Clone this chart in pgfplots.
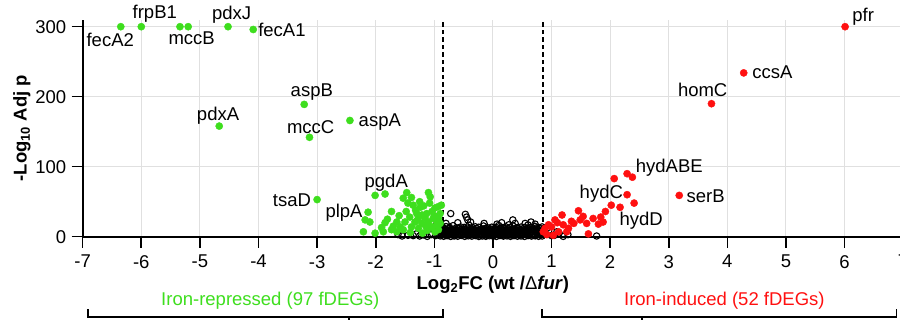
\documentclass[border=0pt]{standalone}
\usepackage{fontspec}
\setmainfont{Liberation Sans}
\usepackage{pgfplots}
\pgfplotsset{compat=1.18}
\definecolor{dgreen}{RGB}{62,222,30}
\definecolor{dred}{RGB}{255,16,16}
\begin{document}
\begin{tikzpicture}[font=\fontsize{18.5}{22}\selectfont]
\begin{axis}[
  scale only axis,
  width=820.4pt, height=217pt,
  xmin=-7, xmax=7, ymin=0, ymax=310,
  axis lines=left,
  axis line style={-, line width=1.8pt},
  clip=false,
  xtick={-7,...,7}, ytick={0,100,200,300},
  tick align=outside,
  major tick length=11pt,
  every tick/.style={black, line width=1.6pt},
  grid=major,
  major grid style={black!12, line width=0.9pt},
  /pgf/number format/assume math mode=true,
  xticklabel style={anchor=north, yshift=-4pt},
  yticklabel style={anchor=east, xshift=-2pt},
]
% non-significant genes
\addplot[only marks, mark=o, mark size=3.2pt, black, mark options={line width=1.1pt}] coordinates {
(-0.90,1.2)(-0.84,0.6)(-0.78,1.5)(-0.72,0.4)(-0.66,1.1)(-0.60,0.7)(-0.54,1.8)(-0.48,0.5)(-0.42,1.3)(-0.36,0.8)(-0.30,1.6)(-0.24,0.3)(-0.18,1.0)(-0.12,0.6)(-0.06,1.4)(0.00,0.9)(0.06,0.4)(0.12,1.7)(0.18,0.8)(0.24,1.2)(0.30,0.5)(0.36,1.5)(0.42,0.7)(0.48,1.1)(0.54,0.4)(0.60,1.6)(0.66,0.9)(0.72,1.3)(0.78,0.6)(0.84,1.0)
(-0.88,2.4)(-0.81,2.0)(-0.74,2.6)(-0.67,2.1)(-0.60,2.8)(-0.53,2.2)(-0.46,2.5)(-0.39,2.0)(-0.32,2.7)(-0.25,2.3)(-0.18,2.6)(-0.11,2.1)(-0.04,2.8)(0.03,2.2)(0.10,2.5)(0.17,2.0)(0.24,2.7)(0.31,2.3)(0.38,2.6)(0.45,2.1)(0.52,2.8)(0.59,2.2)(0.66,2.5)(0.73,2.0)(0.80,2.6)
(-0.87,3.6)(-0.81,4.2)(-0.75,3.1)(-0.69,4.4)(-0.63,3.3)(-0.57,3.9)(-0.51,4.6)(-0.45,3.2)(-0.39,4.0)(-0.33,3.5)(-0.27,4.3)(-0.21,3.0)(-0.15,3.8)(-0.09,4.5)(-0.03,3.4)(0.03,4.1)(0.09,3.2)(0.15,3.9)(0.21,4.4)(0.27,3.3)(0.33,4.0)(0.39,3.6)(0.45,4.5)(0.51,3.1)(0.57,3.8)(0.63,4.2)(0.69,3.4)(0.75,4.0)(0.81,3.5)
(-0.85,5.1)(-0.78,4.8)(-0.71,5.3)(-0.64,4.9)(-0.57,5.2)(-0.50,4.8)(-0.43,5.4)(-0.36,5.0)(-0.29,4.9)(-0.22,5.3)(-0.15,5.0)(-0.08,4.8)(-0.01,5.2)(0.06,5.0)(0.13,4.9)(0.20,5.3)(0.27,5.1)(0.34,4.8)(0.41,5.2)(0.48,5.0)(0.55,4.9)(0.62,5.3)(0.69,5.0)(0.76,4.8)(0.83,5.2)
(-0.89,6.2)(-0.82,5.6)(-0.76,6.8)(-0.70,5.9)(-0.64,6.5)(-0.58,5.5)(-0.52,7.0)(-0.46,6.1)(-0.40,5.7)(-0.34,6.9)(-0.28,6.0)(-0.22,6.6)(-0.16,5.8)(-0.10,6.4)(-0.04,7.1)(0.02,5.6)(0.08,6.3)(0.14,6.9)(0.20,5.9)(0.26,6.5)(0.32,5.7)(0.38,6.8)(0.44,6.1)(0.50,5.5)(0.56,6.6)(0.62,6.0)(0.68,7.0)(0.74,5.8)(0.80,6.4)
(-0.88,7.6)(-0.81,7.3)(-0.74,7.8)(-0.67,7.4)(-0.60,7.7)(-0.53,7.3)(-0.46,7.9)(-0.39,7.5)(-0.32,7.4)(-0.25,7.8)(-0.18,7.5)(-0.11,7.3)(-0.04,7.7)(0.03,7.5)(0.10,7.4)(0.17,7.8)(0.24,7.6)(0.31,7.3)(0.38,7.7)(0.45,7.5)(0.52,7.4)(0.59,7.8)(0.66,7.5)(0.73,7.3)(0.80,7.7)
(-0.86,8.6)(-0.79,9.3)(-0.73,8.1)(-0.67,9.0)(-0.61,8.4)(-0.55,9.5)(-0.49,8.2)(-0.43,8.9)(-0.37,9.4)(-0.31,8.0)(-0.25,8.7)(-0.19,9.2)(-0.13,8.3)(-0.07,9.0)(-0.01,8.5)(0.05,9.6)(0.11,8.2)(0.17,8.8)(0.23,9.3)(0.29,8.1)(0.35,9.0)(0.41,8.6)(0.47,9.4)(0.53,8.3)(0.59,8.9)(0.65,8.0)(0.71,9.2)(0.77,8.5)
(-0.87,10.2)(-0.79,9.9)(-0.71,10.4)(-0.63,10.0)(-0.54,10.3)(-0.46,9.8)(-0.39,10.5)(-0.32,10.1)(-0.24,9.9)(-0.16,10.4)(-0.08,10.0)(0.00,10.3)(0.08,9.8)(0.16,10.4)(0.23,10.1)(0.31,9.9)(0.39,10.3)(0.47,10.0)(0.55,10.4)(0.63,9.8)(0.70,10.2)(0.78,10.0)
(-0.83,11.2)(-0.74,12.0)(-0.66,10.8)(-0.58,11.9)(-0.50,10.6)(-0.44,12.4)(-0.36,11.1)(-0.28,11.8)(-0.20,10.7)(-0.12,12.2)(-0.04,11.0)(0.04,11.7)(0.12,10.9)(0.19,12.3)(0.27,11.3)(0.35,10.6)(0.43,12.1)(0.51,11.0)(0.59,11.8)(0.67,10.7)(0.74,12.5)(0.81,11.4)
(-0.85,13.1)(-0.74,13.4)(-0.62,12.9)(-0.49,13.3)(-0.35,13.0)(-0.24,13.5)(-0.09,12.8)(0.05,13.4)(0.16,13.0)(0.29,13.3)(0.41,12.9)(0.54,13.4)(0.66,13.0)(0.78,13.2)
(-0.80,14.5)(-0.68,15.8)(-0.55,13.9)(-0.41,16.5)(-0.30,14.2)(-0.16,15.3)(-0.02,13.6)(0.10,16.0)(0.22,14.1)(0.34,15.5)(0.48,13.8)(0.60,16.8)(0.72,14.6)
(-0.72,33)(-0.47,32)(-0.45,28)(-0.43,24)(-0.38,21)(-0.60,20)(0.07,18)(0.27,17)(0.34,24)(0.38,19)(0.55,19)(0.65,21)(0.72,18)(-0.80,19)(-0.15,19)(0.15,20)(0.84,14)
(-1.62,3)(-1.55,1)(-1.45,2)(-1.36,1.5)(-1.31,4)(-1.25,1)(-1.18,2.5)(-1.12,0.5)(-1.05,3)(-0.98,1.5)(-0.94,5)(-0.92,9)(-0.88,16)(-1.03,12)(-0.96,18)
(0.90,4)(0.95,8)(1.05,2)(1.09,7)(1.13,5)(1.20,0.5)(1.28,3)(1.77,1)(0.92,12)(1.00,1.5)
};
% iron-repressed
\addplot[only marks, mark=*, mark size=3.6pt, dgreen, mark options={draw=dgreen, fill=dgreen}] coordinates {
(-6.35,300)(-6.00,300)(-5.34,300)(-5.20,300)(-4.52,300)(-4.09,296)(-3.22,189)(-3.13,142)(-2.44,166)(-4.67,158)(-3.00,53)
(-2.01,59)(-1.84,61)(-1.47,63)(-1.10,63)(-1.07,57)(-1.53,55)(-1.39,56)(-2.13,35)(-2.18,24)(-2.10,21)(-2.21,7)(-2.01,5)(-1.87,7)(-1.73,10)(-1.73,36)(-1.84,20)(-1.64,21)(-1.50,21)(-1.48,36)
(-1.36,45)(-1.24,42)(-1.18,44)(-1.30,33)(-1.21,31)(-1.13,33)(-1.04,36)(-0.99,41)(-0.93,43)(-1.33,21)(-1.21,19)(-1.10,21)(-1.02,26)(-0.93,26)(-1.53,10)(-1.39,14)(-1.27,12)(-1.14,14)(-1.04,14)(-0.96,17)(-0.90,19)(-1.64,7)(-1.41,6)(-0.99,7)(-0.88,45)(-0.93,10)
(-1.80,25)(-1.60,30)(-1.42,28)(-1.28,25)(-1.16,27)(-1.08,48)(-1.25,50)(-1.45,48)(-1.32,38)(-1.00,30)(-0.90,33)(-0.95,22)(-1.12,9)(-1.20,5)(-1.58,14)(-1.70,15)(-1.90,13)
};
% iron-induced
\addplot[only marks, mark=*, mark size=3.6pt, dred, mark options={draw=dred, fill=dred}] coordinates {
(6.01,300)(4.28,234)(3.73,190)(3.18,59)
(2.07,83)(2.29,90)(2.38,85)(2.29,60)(2.41,48)(2.02,45)(2.17,42)(1.92,36)(1.84,28)(1.88,21)(1.71,26)(1.60,19)(1.46,37)(1.49,24)(1.38,19)(1.29,12)(1.18,31)(1.20,17)(1.06,24)(1.00,14)(1.12,7)(1.63,4)(0.95,17)(0.89,12)(0.86,7)(1.03,2)(1.26,7)(1.80,18)(1.54,29)(1.34,22)(0.92,3)(1.10,20)
};
% thresholds
\addplot[black, line width=1.8pt, dash pattern=on 4.5pt off 3pt] coordinates {(-0.85,0)(-0.85,310)};
\addplot[black, line width=1.8pt, dash pattern=on 4.5pt off 3pt] coordinates {(0.85,0)(0.85,310)};
% brackets
\addplot[black, line width=1.6pt] coordinates {(-6.91,-103.3)(-6.91,-114.3)(-0.85,-114.3)(-0.85,-103.3)};
\addplot[black, line width=1.6pt] coordinates {(-2.455,-114.3)(-2.455,-130)};
\addplot[black, line width=1.6pt] coordinates {(0.833,-103.3)(0.833,-114.3)(6.89,-114.3)(6.89,-103.3)};
\addplot[black, line width=1.6pt] coordinates {(2.54,-114.3)(2.54,-130)};
% gene labels
\node at (axis cs:-6.53,281) {fecA2};
\node at (axis cs:-5.77,318) {frpB1};
\node at (axis cs:-5.14,284) {mccB};
\node at (axis cs:-4.46,316.7) {pdxJ};
\node at (axis cs:-3.60,295) {fecA1};
\node at (axis cs:-3.09,206.7) {aspB};
\node at (axis cs:-4.69,172.4) {pdxA};
\node at (axis cs:-3.11,156.7) {mccC};
\node at (axis cs:-1.93,163.9) {aspA};
\node at (axis cs:6.32,314) {pfr};
\node at (axis cs:4.77,234.6) {ccsA};
\node at (axis cs:3.58,209.6) {homC};
\node at (axis cs:-3.43,52.4) {tsaD};
\node at (axis cs:-2.54,34.6) {plpA};
\node at (axis cs:-1.82,77.4) {pgdA};
\node at (axis cs:3.01,98.9) {hydABE};
\node at (axis cs:1.85,61.3) {hydC};
\node at (axis cs:3.63,57.1) {serB};
\node at (axis cs:2.53,22.7) {hydD};
% axis labels
\node at (axis cs:0,-69) {\bfseries Log\textsubscript{2}FC (wt /{\mdseries Δ}\textit{fur})};
\node[rotate=90] at (axis cs:-8.036,155) {\bfseries -Log\textsubscript{10} Adj p};
% group labels
\node[text=dgreen] at (axis cs:-3.80,-91.6) {Iron-repressed (97 fDEGs)};
\node[text=dred] at (axis cs:3.95,-91.6) {Iron-induced (52 fDEGs)};
\end{axis}
\pgfresetboundingbox
\path[use as bounding box] (-82.7pt,-83.3pt) rectangle (817.3pt,236.7pt);
\end{tikzpicture}
\end{document}
